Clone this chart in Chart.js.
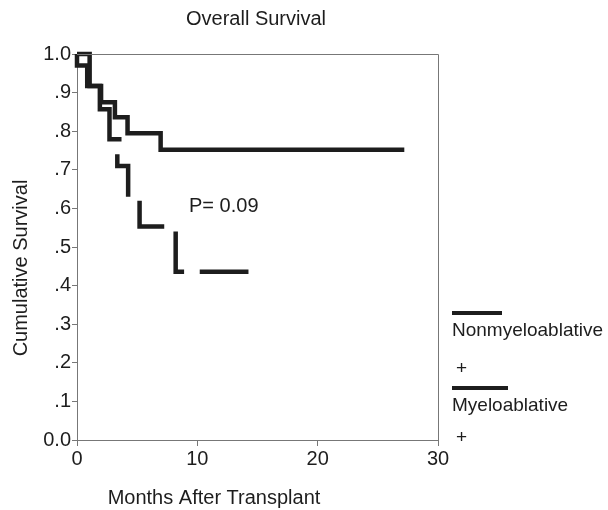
<!DOCTYPE html>
<html>
<head>
<meta charset="utf-8">
<script src="https://cdn.jsdelivr.net/npm/chart.js@4"></script>
<style>
  body { margin: 0; background: #fff; }
  #wrap { position: relative; width: 608px; height: 510px; }
</style>
</head>
<body>
<div id="wrap"><canvas id="chart-survival" width="608" height="510"></canvas></div>
<script>
// Nonmyeloablative: step points (months, cumulative survival)
var nonTimes = [0, 1.05, 2.0, 3.15, 4.2, 6.95, 27.2];
var nonSurv = [1.0, 0.917, 0.875, 0.836, 0.795, 0.752, 0.752];

// Myeloablative: corners of the drawn steps, null = break in the line
var myeloTimes = [0, 0, 0.85, 0.85, 1.9, 1.9, 2.7, 2.7, 3.7, null,
    3.35, 3.35, 4.25, 4.25, null, 5.2, 5.2, 7.25, null,
    8.2, 8.2, 8.9, null, 10.2, 14.25];
var myeloSurv = [1.0, 0.97, 0.97, 0.917, 0.917, 0.857, 0.857, 0.779, 0.779, null,
    0.74, 0.71, 0.71, 0.63, null, 0.62, 0.553, 0.553, null,
    0.54, 0.436, 0.436, null, 0.436, 0.436];

var yTickValues = [0, 0.1, 0.2, 0.3, 0.4, 0.5, 0.6, 0.7, 0.8, 0.9, 1.0];
var yTickLabels = ["0.0", ".1", ".2", ".3", ".4", ".5", ".6", ".7", ".8", ".9", "1.0"];
var xTickLabels = ["0", "10", "20", "30"];

var seriesNames = ["Nonmyeloablative", "Myeloablative"];
var pLabel = "P= 0.09";

var FONT = '"Liberation Sans", Arial, sans-serif';
var INK = "#1d1d1d";
var AXIS = "#777";

function toPoints(times, surv) {
    return times.map(function (t, i) {
        if (t === null) {
            return { x: times[i - 1], y: null };
        }
        return { x: t, y: surv[i] };
    });
}

// texts, box and legend drawn on the canvas
var decorPlugin = {
    id: "decor",
    afterDraw: function (chart) {
        var ctx = chart.ctx;
        var a = chart.chartArea;
        ctx.save();
        // top and right frame
        ctx.strokeStyle = AXIS;
        ctx.lineWidth = 1;
        ctx.beginPath();
        ctx.moveTo(a.left, a.top + 0.5);
        ctx.lineTo(a.right + 0.5, a.top + 0.5);
        ctx.lineTo(a.right + 0.5, a.bottom);
        ctx.stroke();

        ctx.fillStyle = INK;
        ctx.font = "20px " + FONT;
        ctx.textBaseline = "middle";

        ctx.textAlign = "center";
        ctx.fillText("Overall Survival", 256, 19);
        ctx.fillText("Months After Transplant", 214, 498);

        ctx.save();
        ctx.translate(21, 268);
        ctx.rotate(-Math.PI / 2);
        ctx.fillText("Cumulative Survival", 0, 0);
        ctx.restore();

        ctx.textAlign = "left";
        ctx.fillText(pLabel, 189, 206);

        // legend
        ctx.font = "19px " + FONT;
        ctx.fillRect(452, 311, 50, 4);
        ctx.fillText(seriesNames[0], 452, 331);
        ctx.fillText("+", 456, 369);
        ctx.fillRect(452, 386, 56, 4);
        ctx.fillText(seriesNames[1], 452, 406);
        ctx.fillText("+", 456, 438);
        ctx.restore();
    },
};

new Chart(document.getElementById("chart-survival"), {
    type: "line",
    data: {
        datasets: [
            {
                label: seriesNames[0],
                data: toPoints(nonTimes, nonSurv),
                stepped: "before",
                borderColor: INK,
                borderWidth: 4.5,
                pointRadius: 0,
                fill: false,
                clip: false,
            },
            {
                label: seriesNames[1],
                data: toPoints(myeloTimes, myeloSurv),
                spanGaps: false,
                borderColor: INK,
                borderWidth: 4.5,
                pointRadius: 0,
                tension: 0,
                fill: false,
                clip: false,
            },
        ],
    },
    options: {
        responsive: false,
        animation: false,
        layout: { padding: { top: 54, right: 170, bottom: 0, left: 0 } },
        plugins: {
            legend: { display: false },
            title: { display: false },
            tooltip: { enabled: false },
        },
        scales: {
            x: {
                type: "linear",
                min: 0,
                max: 30,
                afterFit: function (s) { s.height = 70; },
                afterBuildTicks: function (s) {
                    s.ticks = xTickLabels.map(function (l) { return { value: Number(l) }; });
                },
                ticks: {
                    color: INK,
                    font: { family: FONT, size: 20 },
                    padding: 1,
                    maxRotation: 0,
                    callback: function (v, i) { return xTickLabels[i]; },
                },
                grid: { drawOnChartArea: false, color: AXIS, tickLength: 6 },
                border: { color: AXIS, width: 1 },
            },
            y: {
                min: 0,
                max: 1,
                afterFit: function (s) { s.width = 77; },
                afterBuildTicks: function (s) {
                    s.ticks = yTickValues.map(function (v) { return { value: v }; });
                },
                ticks: {
                    color: INK,
                    font: { family: FONT, size: 20 },
                    padding: 1,
                    callback: function (v, i) { return yTickLabels[i]; },
                },
                grid: { drawOnChartArea: false, color: AXIS, tickLength: 5 },
                border: { color: AXIS, width: 1 },
            },
        },
    },
    plugins: [decorPlugin],
});
</script>
</body>
</html>
